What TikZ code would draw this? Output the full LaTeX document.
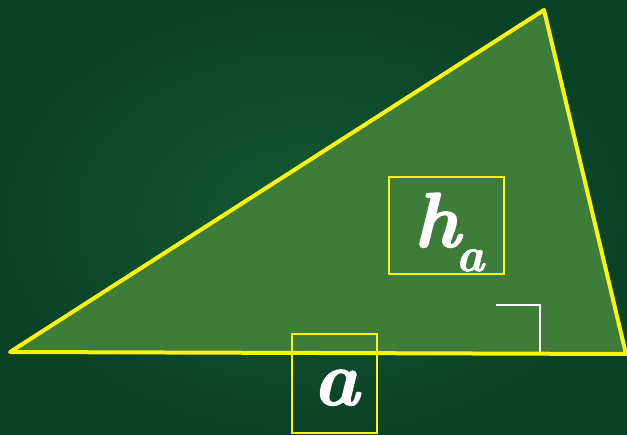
\documentclass[tikz,border=0pt]{standalone}
\usepackage{fontspec}
\newfontfamily\heavyital{lmroman10-bolditalic}[Extension=.otf, FakeBold=1.6]
\definecolor{bgdark}{RGB}{10,66,38}
\definecolor{bgmid}{RGB}{20,88,50}
\definecolor{trifill}{RGB}{62,124,58}
\definecolor{edgeyellow}{RGB}{250,245,10}
\tikzset{
  labelbox/.style={draw=edgeyellow, line width=1.5pt, inner sep=0pt},
  bigletter/.style={white, inner sep=0pt, font=\fontsize{78}{80}\selectfont\heavyital},
  smallletter/.style={white, inner sep=0pt, font=\fontsize{48}{50}\selectfont\heavyital}
}
\begin{document}
\begin{tikzpicture}[x=1pt, y=-1pt]
  % Background
  \useasboundingbox (0,0) rectangle (627,435);
  \shade[inner color=bgmid, outer color=bgdark] (0,0) rectangle (627,435);
  % Vertices
  \coordinate (A) at (10,352);
  \coordinate (B) at (626,354);
  \coordinate (C) at (544,10);
  % Triangle
  \fill[trifill] (A) -- (B) -- (C) -- cycle;
  % Right angle mark at foot of height
  \coordinate (F) at (540,353);
  \draw[white, line width=2.5pt] (496,305) -- (540,305) -- (F);
  % Triangle border
  \draw[edgeyellow, line width=4pt, line join=round] (A) -- (B) -- (C) -- cycle;
  % Height label
  \node[labelbox, minimum width=115, minimum height=97] (hbox) at (446.5,225.5) {};
  \node[bigletter, anchor=base] (hlab) at (437,247) {h};
  \node[smallletter, anchor=base] (hsub) at (470,271) {a};
  % Base label
  \node[labelbox, minimum width=85, minimum height=99] (abox) at (334.5,383.5) {};
  \node[bigletter, anchor=base] (alab) at (336,405) {a};
\end{tikzpicture}
\end{document}
